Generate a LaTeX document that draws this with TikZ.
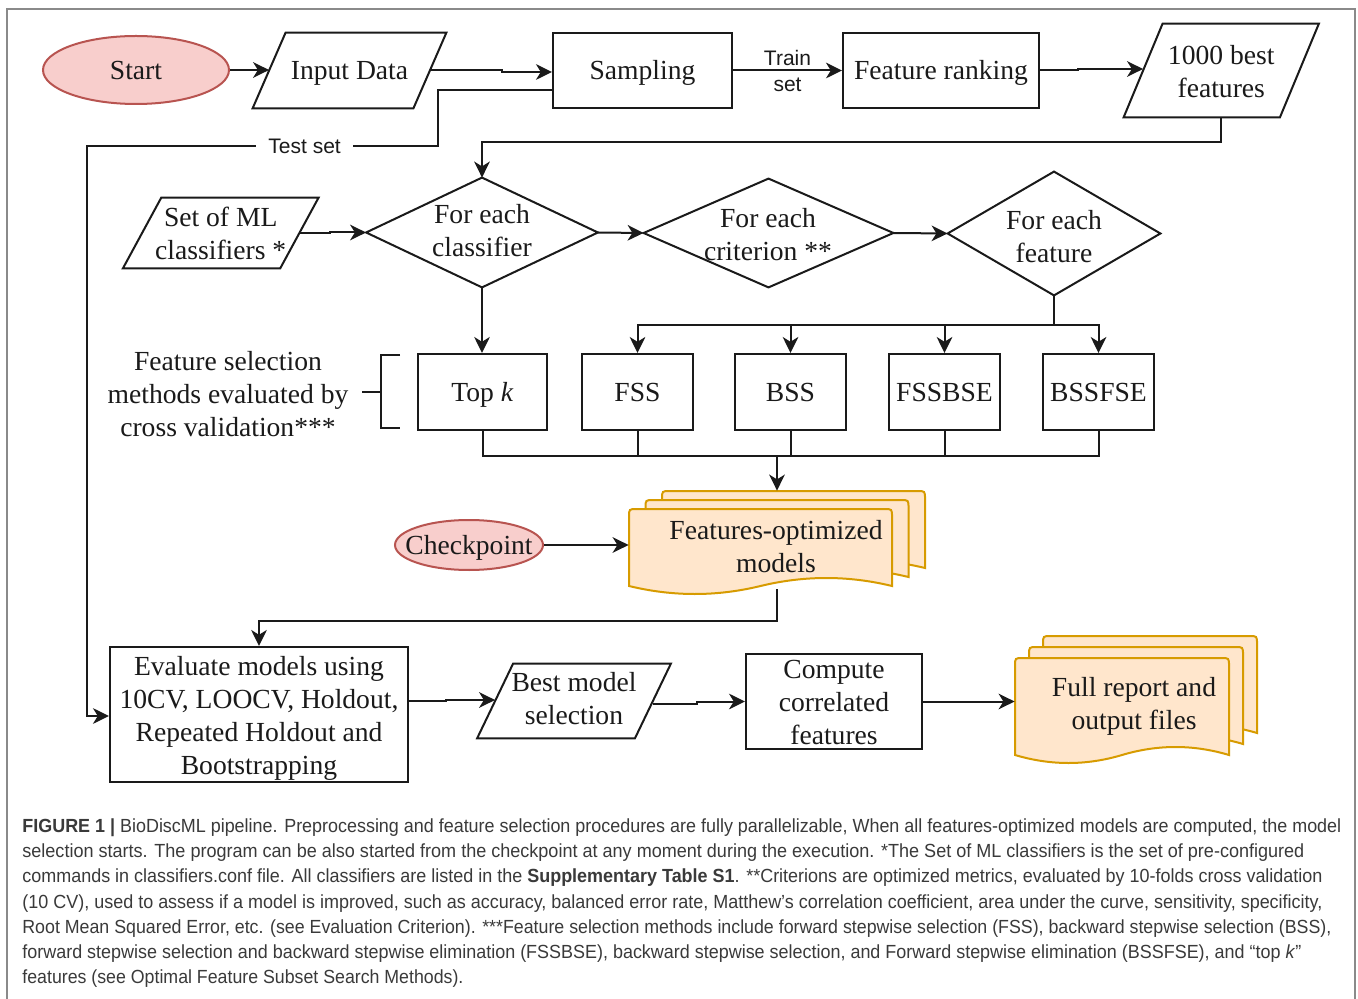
\documentclass[tikz,border=0pt]{standalone}
\usepackage{fontspec}
\setmainfont{Liberation Serif}
\setsansfont{Liberation Sans}
\newfontfamily\capfont{Liberation Sans}
\usepackage{graphicx}
\usetikzlibrary{shapes.geometric,arrows.meta,calc}
\definecolor{redfill}{HTML}{F8CECC}
\definecolor{redline}{HTML}{B85450}
\definecolor{orfill}{HTML}{FFE6CC}
\definecolor{orline}{HTML}{D79B00}
\definecolor{ink}{HTML}{1A1A1A}
\definecolor{framecol}{HTML}{8A8A8A}
\definecolor{captxt}{HTML}{3A3A3A}
\newcommand\mystrut{\rule[-3pt]{0pt}{15.3pt}}
\newcommand\docshape[5]{%
 \draw[docst] ({#1},{#2+#4}) -- ({#1},{#2+8}) .. controls ({#1},{#2}) .. ({#1+8},{#2}) -- ({#1+#3-8},{#2}) .. controls ({#1+#3},{#2}) .. ({#1+#3},{#2+8}) -- ({#1+#3},{#2+#4}) .. controls ({#1+#3*5/6},{#2+#4-4*#5/3}) and ({#1+#3*2/3},{#2+#4-4*#5/3}) .. ({#1+#3/2},{#2+#4}) .. controls ({#1+#3/3},{#2+#4+4*#5/3}) and ({#1+#3/6},{#2+#4+4*#5/3}) .. ({#1},{#2+#4}) -- cycle;}
\newcommand\parashape[2]{\draw[shp] ([xshift=#2]#1.north west) -- ([xshift=#2]#1.north east) -- ([xshift=-#2]#1.south east) -- ([xshift=-#2]#1.south west) -- cycle;}
\newcommand\diamshape[1]{\draw[shp] (#1.north) -- (#1.east) -- (#1.south) -- (#1.west) -- cycle;}
\tikzset{
 shp/.style={draw=ink, line width=1pt, line join=miter},
 txt/.style={font=\fontsize{13.8}{16.5}\selectfont, align=center, text=ink, inner sep=0pt,
   execute at begin node=\mystrut, execute at end node=\mystrut},
 multi/.style={yshift=-1.75pt},
 boxst/.style={txt, draw=ink, line width=1pt, rectangle},
 ghost/.style={txt, rectangle},
 lbl/.style={font=\sffamily\fontsize{10.5}{13}\selectfont, align=center, text=ink, inner sep=1pt},
 conn/.style={draw=ink, line width=1pt},
 arr/.style={conn, -{Stealth[length=8pt,width=7.8pt,inset=2.4pt]}},
 term/.style={ellipse, draw=redline, fill=redfill, line width=1pt, inner sep=0pt},
 docst/.style={draw=orline, fill=orfill, line width=1pt},
 capst/.style={font=\capfont\fontsize{9.5}{12.5}\selectfont, text=captxt, inner sep=0pt, anchor=base west},
}
\begin{document}
\begin{tikzpicture}[x=0.5pt,y=-0.5pt]
\fill[white] (0,0) rectangle (1358,999);
\useasboundingbox (0,0) rectangle (1358,999);
\draw[framecol, line width=0.9pt] (7,1005) -- (7,9) -- (1355,9) -- (1355,1005);

% top row
\node[term, minimum width=93pt, minimum height=34pt] (start) at (136,70) {};
\node[txt] (startt) at (start) {Start};
\node[ghost, minimum width=80pt, minimum height=37.5pt] (input) at (349.5,70.5) {Input Data};
\parashape{input}{8.25pt}
\node[boxst, minimum width=89.5pt, minimum height=37.5pt] (sam) at (642.5,70.5) {Sampling};
\node[boxst, minimum width=98pt, minimum height=37.5pt] (frank) at (941,70.5) {Feature ranking};
\node[ghost, minimum width=77.75pt, minimum height=46.5pt] (best) at (1221.25,70.5) {};
\parashape{best}{9.75pt}
\node[txt, multi] (bestt) at (best) {1000 best\\features};

% loops
\node[ghost, minimum width=78.25pt, minimum height=35pt] (setml) at (220.75,233) {};
\parashape{setml}{9.6pt}
\node[txt, multi] (setmlt) at (setml) {Set of ML\\classifiers *};
\node[ghost, minimum width=115.5pt, minimum height=54.5pt] (cls) at (482,232.5) {};
\diamshape{cls}
\node[txt, multi] (clst) at (482,230) {For each\\classifier};
\node[ghost, minimum width=124.5pt, minimum height=54pt] (crit) at (768.5,233) {};
\diamshape{crit}
\node[txt, multi] (critt) at (768,233.5) {For each\\criterion **};
\node[ghost, minimum width=106pt, minimum height=61.5pt] (feat) at (1054,233.5) {};
\diamshape{feat}
\node[txt, multi] (featt) at (1054,235.5) {For each\\feature};

% methods
\node[txt, multi] (fsm) at (228,393) {Feature selection\\methods evaluated by\\cross validation***};
\node[boxst, minimum width=64.5pt, minimum height=38pt] (topk) at (482.5,392) {Top \textit{k}};
\node[boxst, minimum width=55.5pt, minimum height=38pt] (fss) at (637.5,392) {FSS};
\node[boxst, minimum width=55.5pt, minimum height=38pt] (bss) at (790.5,392) {BSS};
\node[boxst, minimum width=55.5pt, minimum height=38pt] (fssbse) at (944.5,392) {FSSBSE};
\node[boxst, minimum width=55.5pt, minimum height=38pt] (bssfse) at (1098.5,392) {BSSFSE};
\draw[draw=ink, line width=0.8pt] (400,355) -- (381,355) -- (381,428) -- (400,428);
\draw[draw=ink, line width=0.8pt] (362,392) -- (381,392);

% features-optimized models
\docshape{662}{491}{263}{77}{8}
\docshape{645.5}{500}{263}{77}{8}
\docshape{629}{509}{263}{77}{8}
\node[ghost, minimum width=148pt, minimum height=49pt] (fom) at (777,540) {};
\node[txt, multi] (fomt) at (776,546) {Features-optimized\\models};
\node[term, minimum width=74pt, minimum height=25pt] (chk) at (469,545) {};
\node[txt] (chkt) at (chk) {Checkpoint};

% bottom row
\node[boxst, minimum width=149pt, minimum height=67.5pt] (eval) at (259,714.5) {};
\node[txt, multi] (evalt) at (eval) {Evaluate models using\\10CV, LOOCV, Holdout,\\Repeated Holdout and\\Bootstrapping};
\node[ghost, minimum width=78.5pt, minimum height=37pt] (bms) at (574,701) {Best model\\selection};
\parashape{bms}{9pt}
\node[boxst, minimum width=88pt, minimum height=47.5pt] (comp) at (834,701.5) {};
\node[txt, multi] (compt) at (comp) {Compute\\correlated\\features};
\docshape{1043}{636}{214}{97}{8}
\docshape{1029}{647}{214}{97}{8}
\docshape{1015}{658}{214}{97}{8}
\node[ghost, minimum width=121pt, minimum height=64pt] (full) at (1136,700) {};
\node[txt, multi] (fullt) at (1134,703) {Full report and\\output files};

% connectors
\draw[arr] (start.east) -- (start.east -| input.west);
\draw[arr] (input.east) -- ++(72,0) |- ([yshift=-0.75pt]sam.west);
\draw[arr] (sam.east) -- node[lbl]{Train\\set} (frank.west);
\draw[arr] (frank.east) -- ++(38,0) |- ([yshift=0.75pt]best.west);
\draw[arr] ([yshift=-9.75pt]sam.west) -- ++(-114,0) -- ++(0,56) -- node[pos=0.38, lbl, fill=white, inner xsep=6pt]{Test set} ++(-351,0) |- ([yshift=-0.75pt]eval.west);
\draw[arr] (best.south) -- ++(0,25) -| (cls.north);
\draw[arr] (setml.east) -- ++(31,0) |- (cls.west);
\draw[arr] (cls.east) -- (crit.west);
\draw[arr] (crit.east) -- (feat.west);
\draw[conn] (feat.south) -- ++(0,30) coordinate (busT);
\foreach \n in {fss,bss,fssbse,bssfse} \draw[arr] (busT) -| (\n.north);
\draw[arr] (cls.south) -- (cls.south |- topk.north);
\coordinate (busB) at (777,456);
\foreach \n in {topk,fss,bss,fssbse,bssfse} \draw[conn] (\n.south) |- (busB);
\draw[arr] (busB) -- (fom.north);
\draw[arr] (chk.east) -- (chk.east -| fom.west);
\draw[arr] (fom.south) -- ++(0,32) -| (eval.north);
\draw[arr] ([yshift=6.75pt]eval.east) -- ++(37,0) |- ([yshift=0.5pt]bms.west);
\draw[arr] ([yshift=-1.5pt]bms.east) -- ++(44,0) |- (comp.west);
\draw[arr] (comp.east) -- (comp.east -| full.west);

% caption
\node[capst] (c1) at (22,832) {\resizebox{659.5pt}{\height}{\textbf{FIGURE 1 |} BioDiscML pipeline. Preprocessing and feature selection procedures are fully parallelizable, When all features-optimized models are computed, the model}};
\node[capst] (c2) at (22,857) {\resizebox{641pt}{\height}{selection starts. The program can be also started from the checkpoint at any moment during the execution. *The Set of ML classifiers is the set of pre-configured}};
\node[capst] (c3) at (22,882) {\resizebox{650pt}{\height}{commands in classifiers.conf file. All classifiers are listed in the \textbf{Supplementary Table S1}. **Criterions are optimized metrics, evaluated by 10-folds cross validation}};
\node[capst] (c4) at (22,908) {\resizebox{650pt}{\height}{(10 CV), used to assess if a model is improved, such as accuracy, balanced error rate, Matthew’s correlation coefficient, area under the curve, sensitivity, specificity,}};
\node[capst] (c5) at (22,933) {\resizebox{654.5pt}{\height}{Root Mean Squared Error, etc. (see Evaluation Criterion). ***Feature selection methods include forward stepwise selection (FSS), backward stepwise selection (BSS),}};
\node[capst] (c6) at (22,958) {\resizebox{639.5pt}{\height}{forward stepwise selection and backward stepwise elimination (FSSBSE), backward stepwise selection, and Forward stepwise elimination (BSSFSE), and “top \textit{k}”}};
\node[capst] (c7) at (22,983) {\resizebox{220.5pt}{\height}{features (see Optimal Feature Subset Search Methods).}};
\end{tikzpicture}
\end{document}
